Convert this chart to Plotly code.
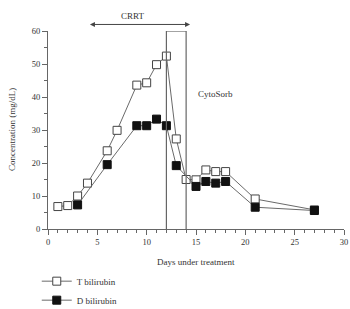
import plotly.graph_objects as go

# Data
t_days = [1, 2, 3, 4, 6, 7, 9, 10, 11, 12, 13, 14, 15, 16, 17, 18, 21, 27]
t_bili = [6.8, 7.1, 10.0, 13.9, 23.7, 29.9, 43.6, 44.3, 49.8, 52.4, 27.3, 15.0, 14.9, 17.9, 17.4, 17.4, 9.1, 5.8]

d_days = [3, 6, 9, 10, 11, 12, 13, 15, 16, 17, 18, 21, 27]
d_bili = [7.3, 19.5, 31.3, 31.3, 33.3, 31.3, 19.2, 12.9, 14.4, 13.9, 14.4, 6.6, 5.6]

x_ticks = [0, 5, 10, 15, 20, 25, 30]
y_ticks = [0, 10, 20, 30, 40, 50, 60]

crrt_start, crrt_end = 4.1, 14.4
cytosorb_start, cytosorb_end = 12, 14
bracket_top = 60

FONT = "Liberation Serif"
LINE = "#6a6a6a"

fig = go.Figure()
fig.add_trace(go.Scatter(
    x=t_days, y=t_bili, mode="lines+markers", name="T bilirubin",
    line=dict(color=LINE, width=1),
    marker=dict(symbol="square", size=8, color="white", line=dict(color="#444", width=1)),
    cliponaxis=False,
))
fig.add_trace(go.Scatter(
    x=d_days, y=d_bili, mode="lines+markers", name="D bilirubin",
    line=dict(color=LINE, width=1),
    marker=dict(symbol="square", size=8, color="#111", line=dict(color="#111", width=1)),
    cliponaxis=False,
))

# CytoSorb bracket
for xv in (cytosorb_start, cytosorb_end):
    fig.add_shape(type="line", x0=xv, x1=xv, y0=0, y1=bracket_top, xref="x", yref="y",
                  line=dict(color="#666", width=1.2))
fig.add_shape(type="line", x0=cytosorb_start, x1=cytosorb_end, y0=bracket_top, y1=bracket_top,
              xref="x", yref="y", line=dict(color="#666", width=1.2))

# CRRT double arrow
fig.add_annotation(x=crrt_end, y=1.033, ax=crrt_start, ay=1.033, xref="x", yref="y domain",
                   axref="x", ayref="y domain", text="", showarrow=True,
                   arrowhead=2, arrowside="end+start", arrowsize=1, arrowwidth=1, arrowcolor="#444")
fig.add_annotation(x=8.6, y=1.075, xref="x", yref="paper", text="CRRT", showarrow=False,
                   xanchor="center", yanchor="middle",
                   font=dict(family=FONT, size=9, color="#333"))
fig.add_annotation(x=14.95, y=41, xref="x", yref="y", text="CytoSorb", showarrow=False,
                   xanchor="left", yanchor="middle", font=dict(family=FONT, size=9, color="#333"))
# y-axis title
fig.add_annotation(x=-0.1216, y=0.5, xref="paper", yref="paper",
                   text="Concentration (mg/dL)", textangle=-90, showarrow=False,
                   xanchor="center", yanchor="middle",
                   font=dict(family=FONT, size=9, color="#333"))
# x-axis title
fig.add_annotation(x=0.5, y=-0.1667, xref="paper", yref="paper",
                   text="Days under treatment", showarrow=False,
                   xanchor="center", yanchor="middle",
                   font=dict(family=FONT, size=9, color="#333"))

fig.update_layout(
    width=350, height=309,
    margin=dict(l=48, r=6, t=31, b=80, autoexpand=False),
    paper_bgcolor="white", plot_bgcolor="white",
    font=dict(family=FONT, size=8, color="#333"),
    showlegend=True,
    legend=dict(xref="container", yref="container", x=0.105, y=0.137,
                xanchor="left", yanchor="top",
                font=dict(family=FONT, size=9, color="#333"),
                bgcolor="rgba(0,0,0,0)", tracegroupgap=0),
    xaxis=dict(range=[0, 30], tickmode="array", tickvals=x_ticks, ticktext=[str(v) for v in x_ticks],
               ticks="outside", ticklen=5, tickcolor="#666", tickwidth=1,
               showline=True, linecolor="#666", linewidth=1, showgrid=False, zeroline=False,
               minor=dict(dtick=1, tick0=0, ticks="outside", ticklen=3, tickcolor="#666"),
               ticklabeloverflow="allow",
               tickfont=dict(family=FONT, size=8.5)),
    yaxis=dict(range=[0, 60], tickmode="array", tickvals=y_ticks, ticktext=[str(v) for v in y_ticks],
               ticks="outside", ticklen=5, tickcolor="#666", tickwidth=1,
               showline=True, linecolor="#666", linewidth=1, showgrid=False, zeroline=False,
               minor=dict(dtick=5, tick0=0, ticks="outside", ticklen=3, tickcolor="#666"),
               tickfont=dict(family=FONT, size=8.5)),
)

fig.write_html("out.html", config={"displayModeBar": False},
               post_script="document.body.style.margin='0';document.body.style.overflow='hidden';")
